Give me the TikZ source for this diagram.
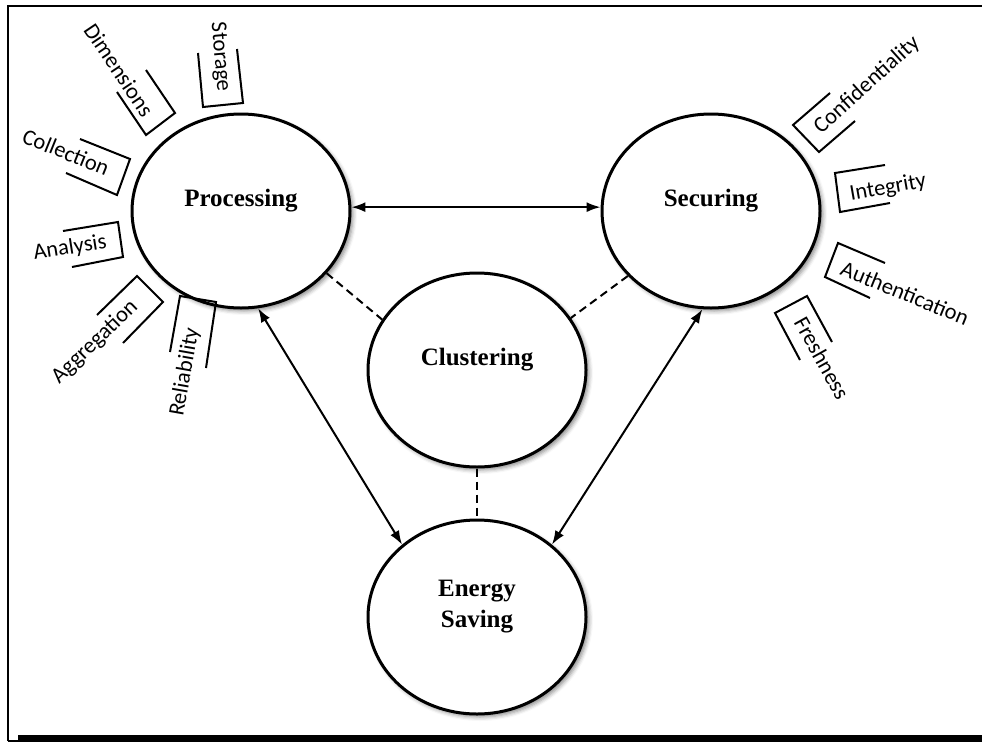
\documentclass[tikz,border=0pt]{standalone}
\usepackage{fontspec}
\setmainfont{Liberation Serif}
\newfontfamily\labelfont{Carlito}
\usetikzlibrary{shapes.geometric,arrows.meta,shadows.blur}
\begin{document}
\begin{tikzpicture}[x=1pt,y=-1pt,
  >={Latex[length=14pt,width=10pt]},
  bubble/.style={ellipse, draw, line width=3pt, fill=white,
    minimum width=218pt, minimum height=194pt, inner sep=0pt,
    align=center, text depth=26pt,
    font=\fontsize{25}{31}\selectfont\bfseries,
    blur shadow={shadow xshift=3pt, shadow yshift=-3pt, shadow blur radius=4pt, shadow opacity=45}},
  tag/.style={font=\fontsize{22.5}{27}\selectfont\labelfont, inner sep=0pt},
  bracket/.style={line width=2pt, line join=miter},
  link/.style={line width=2pt, <->},
  weak/.style={line width=2pt, dash pattern=on 8pt off 5pt},
  frame/.style={line width=1.5pt}]
\useasboundingbox (0,0) rectangle (982,742);
% frame
\draw[frame] (8,741) -- (8,6) -- (982,6);
\draw[frame] (8,741) -- (18,741);
\fill (18,735) rectangle (982,742);
% main nodes
\node[bubble] (proc) at (241,211) {Processing};
\node[bubble] (sec) at (711,211) {Securing};
\node[bubble] (clu) at (477,370) {Clustering};
\node[bubble] (ener) at (477,617) {Energy\\Saving};
% connectors
\draw[link] (proc.2) -- (sec.178);
\draw[link] (proc.-80) -- (ener.136.6);
\draw[link] (sec.-95) -- (ener.44);
\draw[weak] (proc.-36) -- (clu.152);
\draw[weak] (sec.-142) -- (clu.29);
\draw[weak] (clu.south) -- (ener.north);
% processing annotations
\node[tag, rotate=-85] (storage) at (220,57) {Storage};
\draw[bracket] (198,53) -- (203,107) -- (243,103) -- (237,49);
\node[tag, rotate=-56] (dimensions) at (119,70) {Dimensions};
\draw[bracket] (117,92) -- (146,135) -- (175,113) -- (146,70);
\node[tag, rotate=-22] (collection) at (66,152) {Collection};
\draw[bracket] (80,139) -- (130,159) -- (117,195) -- (66,173);
\node[tag, rotate=9] (analysis) at (70,248) {Analysis};
\draw[bracket] (63,231) -- (118,222) -- (123,257) -- (72,267);
\node[tag, rotate=44] (aggregation) at (95,342) {Aggregation};
\draw[bracket] (97,315) -- (137,276) -- (163,302) -- (123,343);
\node[tag, rotate=80] (reliability) at (185,372) {Reliability};
\draw[bracket] (170,352) -- (180,296) -- (216,302) -- (206,368);
% securing annotations
\node[tag, rotate=42] (confidentiality) at (867,85) {Confidentiality};
\draw[bracket] (830,93) -- (793,125) -- (819,152) -- (855,121);
\node[tag, rotate=10] (integrity) at (888,188) {Integrity};
\draw[bracket] (885,165) -- (835,173) -- (840,212) -- (890,203);
\node[tag, rotate=-22] (authentication) at (905,293) {Authentication};
\draw[bracket] (885,263) -- (838,243) -- (825,277) -- (870,298);
\node[tag, rotate=-61] (freshness) at (822,358) {Freshness};
\draw[bracket] (800,360) -- (775,313) -- (807,296) -- (832,342);
\end{tikzpicture}
\end{document}
